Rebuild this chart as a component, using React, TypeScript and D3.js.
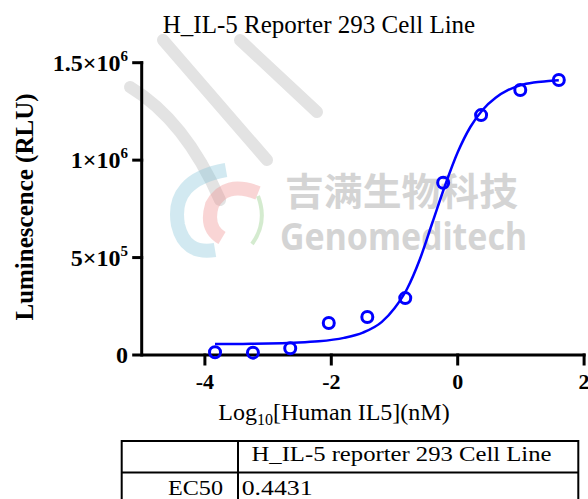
import React from "react";
import * as d3 from "d3";

const TITLE = "H_IL-5 Reporter 293 Cell Line";
const X_TICKS = [-4, -2, 0, 2];
const Y_TICKS = [0, 5e5, 1e6, 1.5e6];
const Y_TICK_BASE = ["0", "5×10", "1×10", "1.5×10"];
const Y_TICK_EXP = ["", "5", "6", "6"];
const LOG_CONC = [-3.84, -3.24, -2.65, -2.04, -1.43, -0.83, -0.23, 0.37, 0.99, 1.6];
const RLU = [1.4e4, 1.2e4, 3.4e4, 1.64e5, 1.95e5, 2.92e5, 8.84e5, 1.231e6, 1.36e6, 1.411e6];
const FIT_LOG_CONC = [-3.84, -3.4, -3.0, -2.6, -2.2, -1.8, -1.5, -1.2, -1.0, -0.8, -0.6, -0.4, -0.2, 0.0, 0.2, 0.4, 0.6, 0.8, 1.0, 1.2, 1.4, 1.6];
const FIT_RLU = [5.6e4, 5.7e4, 5.9e4, 6.3e4, 7.0e4, 8.8e4, 1.15e5, 1.7e5, 2.4e5, 3.4e5, 4.9e5, 6.8e5, 8.7e5, 1.04e6, 1.17e6, 1.26e6, 1.32e6, 1.36e6, 1.385e6, 1.398e6, 1.405e6, 1.41e6];
const TABLE_HEADER = ["", "H_IL-5 reporter 293 Cell Line"];
const TABLE_ROW = ["EC50", "0.4431"];

const SERIF = "'Liberation Serif', 'Times New Roman', serif";
const BLUE = "#0000ff";

export default function App() {
  const W = 588, H = 499;
  const x = d3.scaleLinear().domain([-5, 2]).range([141.7, 584.1]);
  const y = d3.scaleLinear().domain([0, 1.5e6]).range([355, 62.7]);
  const fit: [number, number][] = FIT_LOG_CONC.map((v, i) => [v, FIT_RLU[i]]);
  const line = d3.line<[number, number]>().x(d => x(d[0])).y(d => y(d[1])).curve(d3.curveMonotoneX);
  const x0 = x.range()[0], x1 = x.range()[1];
  const y0 = y.range()[0], y1 = y.range()[1];

  return (
    <svg width={W} height={H} style={{ position: "absolute", left: 0, top: 0, background: "#fff" }}>
      <rect width={W} height={H} fill="#fff" />
      {/* watermark */}
      <g>
        <g fill="none" stroke="#e3e3e3" strokeWidth={12} strokeLinecap="round">
          <path d="M163,40 L267,160" />
          <path d="M240,40 L317,112" />
          <path d="M130,87 Q185,120 220,200" />
        </g>
        <g fill="none" strokeWidth={14} opacity={0.35}>
          <path d="M226,170 Q170,180 178,225 Q185,255 215,250" stroke="#7fc3d8" />
          <path d="M258,193 Q225,180 212,205 Q205,228 222,238" stroke="#f08a8a" />
        </g>
        <path d="M258,196 Q268,222 252,244" fill="none" stroke="#a9d8a0" strokeWidth={4} opacity={0.5} />
        <text x={285} y={205} textLength={233} lengthAdjust="spacingAndGlyphs" fontFamily="'Noto Sans CJK SC', sans-serif" fontWeight="bold" fontSize={38} fill="#d4d4d4">吉满生物科技</text>
        <text x={280} y={250} textLength={247} lengthAdjust="spacingAndGlyphs" fontFamily="'Noto Sans', 'Open Sans', sans-serif" fontWeight="bold" fontSize={38} fill="#d4d4d4">Genomeditech</text>
      </g>

      {/* title */}
      <text x={319} y={33} textAnchor="middle" fontFamily={SERIF} fontSize={25} fill="#000">{TITLE}</text>

      {/* axes */}
      <g stroke="#000" strokeWidth={3} fill="none" strokeLinecap="square">
        <path d={`M${x0},${y1} V${y0} H${x1}`} />
        {Y_TICKS.map((t, i) => (
          <line key={"yt" + i} x1={x0 - 8} x2={x0} y1={y(t)} y2={y(t)} />
        ))}
        {X_TICKS.map((t, i) => (
          <line key={"xt" + i} x1={x(t)} x2={x(t)} y1={y0} y2={y0 + 9} />
        ))}
      </g>
      {Y_TICKS.map((t, i) => (
        <text key={"yl" + i} x={128} y={y(t) + 8} textAnchor="end" fontFamily={SERIF} fontWeight="bold" fontSize={24} fill="#000">
          {Y_TICK_BASE[i]}
          {Y_TICK_EXP[i] ? <tspan fontSize={15} dy={-10}>{Y_TICK_EXP[i]}</tspan> : null}
        </text>
      ))}
      {X_TICKS.map((t, i) => (
        <text key={"xl" + i} x={x(t)} y={389} textAnchor="middle" fontFamily={SERIF} fontWeight="bold" fontSize={22} fill="#000">{t}</text>
      ))}
      <text x={334} y={420} textAnchor="middle" fontFamily={SERIF} fontSize={24} fill="#000">
        Log<tspan fontSize={16} dy={5}>10</tspan><tspan dy={-5}>[Human IL5](nM)</tspan>
      </text>
      <text transform={`translate(33,207) rotate(-90)`} textAnchor="middle" fontFamily={SERIF} fontWeight="bold" fontSize={25} fill="#000">Luminescence (RLU)</text>

      {/* fit curve */}
      <path d={line(fit) || ""} fill="none" stroke={BLUE} strokeWidth={2.5} />
      {/* points */}
      {LOG_CONC.map((v, i) => (
        <circle key={"p" + i} cx={x(v)} cy={y(RLU[i])} r={5.5} fill="none" stroke={BLUE} strokeWidth={3} />
      ))}

      {/* table */}
      <g stroke="#000" strokeWidth={2} fill="none">
        <rect x={121.7} y={441} width={578.3 - 121.7} height={80} />
        <line x1={238} x2={238} y1={441} y2={521} />
        <line x1={121.7} x2={578.3} y1={472.5} y2={472.5} />
      </g>
      <text x={251.5} y={461} fontFamily={SERIF} fontSize={22} textLength={300} lengthAdjust="spacingAndGlyphs" fill="#000">{TABLE_HEADER[1]}</text>
      <text x={168} y={495} fontFamily={SERIF} fontSize={22} textLength={55} lengthAdjust="spacingAndGlyphs" fill="#000">{TABLE_ROW[0]}</text>
      <text x={241.7} y={495} fontFamily={SERIF} fontSize={22} textLength={71} lengthAdjust="spacingAndGlyphs" fill="#000">{TABLE_ROW[1]}</text>
    </svg>
  );
}
